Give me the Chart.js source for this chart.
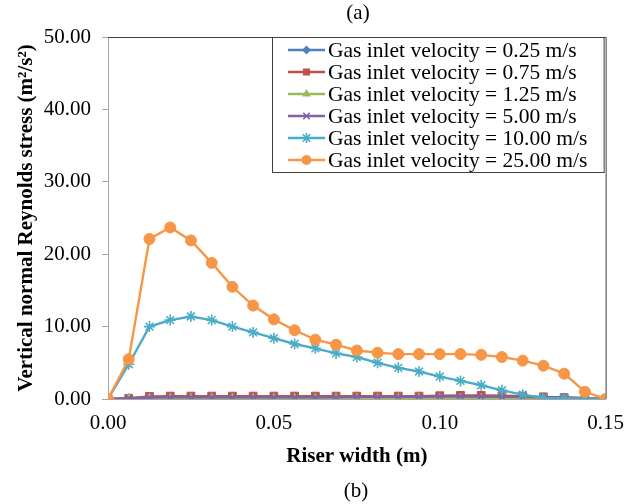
<!DOCTYPE html>
<html><head><meta charset="utf-8">
<script src="https://cdn.jsdelivr.net/npm/chart.js@4.4.1/dist/chart.umd.min.js"></script>
<style>html,body{margin:0;padding:0;background:#fff}#wrap{width:636px;height:504px}</style>
</head><body><div id="wrap"><canvas id="c" width="636" height="504"></canvas></div>
<script>
// Riser width positions (m)
const riserWidth = [0, 0.00625, 0.0125, 0.01875, 0.025, 0.03125, 0.0375, 0.04375, 0.05, 0.05625, 0.0625, 0.06875, 0.075, 0.08125, 0.0875, 0.09375, 0.1, 0.10625, 0.1125, 0.11875, 0.125, 0.13125, 0.1375, 0.14375, 0.15];
const seriesNames = ["Gas inlet velocity = 0.25 m/s","Gas inlet velocity = 0.75 m/s","Gas inlet velocity = 1.25 m/s","Gas inlet velocity = 5.00 m/s","Gas inlet velocity = 10.00 m/s","Gas inlet velocity = 25.00 m/s"];
const v025 = [0, 0.02, 0.03, 0.03, 0.03, 0.03, 0.03, 0.03, 0.03, 0.03, 0.03, 0.03, 0.03, 0.03, 0.03, 0.03, 0.03, 0.03, 0.03, 0.03, 0.03, 0.03, 0.03, 0.02, 0];
const v075 = [0, 0.1, 0.35, 0.4, 0.4, 0.4, 0.4, 0.4, 0.4, 0.4, 0.4, 0.4, 0.4, 0.4, 0.4, 0.4, 0.45, 0.5, 0.5, 0.45, 0.4, 0.3, 0.2, 0.1, 0];
const v125 = [0, 0.02, 0.03, 0.03, 0.03, 0.03, 0.03, 0.03, 0.03, 0.03, 0.03, 0.03, 0.03, 0.03, 0.03, 0.03, 0.03, 0.03, 0.03, 0.03, 0.03, 0.03, 0.03, 0.02, 0];
const v500 = [0, 0.1, 0.2, 0.25, 0.25, 0.25, 0.25, 0.25, 0.25, 0.25, 0.25, 0.25, 0.3, 0.3, 0.3, 0.3, 0.35, 0.35, 0.35, 0.3, 0.3, 0.25, 0.2, 0.1, 0];
const v1000 = [0, 4.8, 10.0, 10.9, 11.4, 10.9, 10.0, 9.2, 8.4, 7.6, 7.0, 6.3, 5.8, 5.0, 4.3, 3.8, 3.1, 2.5, 1.9, 1.2, 0.6, 0.15, 0.1, 0.05, 0];
const v2500 = [0, 5.5, 22.1, 23.7, 21.9, 18.8, 15.5, 12.9, 11.0, 9.5, 8.2, 7.5, 6.7, 6.4, 6.2, 6.2, 6.2, 6.2, 6.1, 5.8, 5.3, 4.6, 3.5, 1.0, 0];
const xTicks = [0, 0.05, 0.10, 0.15];
const yTicks = [0, 10, 20, 30, 40, 50];

const seriesValues = [v025, v075, v125, v500, v1000, v2500];
const colors = ['#4F81BD', '#C0504D', '#9BBB59', '#8064A2', '#4BACC6', '#F79646'];
const styles = ['rectRot', 'rect', 'triangle', 'crossRot', 'star', 'circle'];
const radii = [5, 5.5, 5.5, 4.5, 5.5, 5.5];

const FONT = "'Liberation Serif', 'Times New Roman', serif";

const datasets = seriesValues.map((vals, i) => ({
  label: seriesNames[i],
  data: vals.map((v, j) => ({x: riserWidth[j], y: v})),
  borderColor: colors[i],
  backgroundColor: colors[i],
  pointBackgroundColor: colors[i],
  pointBorderColor: colors[i],
  pointStyle: styles[i],
  pointRadius: radii[i],
  pointBorderWidth: styles[i] === 'crossRot' || styles[i] === 'star' ? 1.6 : 1,
  borderWidth: 2.4,
  tension: 0,
  order: 6 - i
}));

function drawMarker(ctx, style, x, y, r, color) {
  ctx.save();
  ctx.fillStyle = color; ctx.strokeStyle = color; ctx.lineWidth = 1;
  ctx.beginPath();
  if (style === 'circle') { ctx.arc(x, y, r, 0, Math.PI*2); ctx.fill(); }
  else if (style === 'rect') { const s = Math.SQRT1_2 * r; ctx.rect(x-s, y-s, 2*s, 2*s); ctx.fill(); }
  else if (style === 'rectRot') { ctx.moveTo(x, y-r); ctx.lineTo(x+r, y); ctx.lineTo(x, y+r); ctx.lineTo(x-r, y); ctx.closePath(); ctx.fill(); }
  else if (style === 'triangle') { ctx.moveTo(x, y-r); ctx.lineTo(x+r*0.87, y+r*0.5); ctx.lineTo(x-r*0.87, y+r*0.5); ctx.closePath(); ctx.fill(); }
  else if (style === 'crossRot') { ctx.lineWidth = 1.6; const s = r*0.8; ctx.moveTo(x-s,y-s); ctx.lineTo(x+s,y+s); ctx.moveTo(x+s,y-s); ctx.lineTo(x-s,y+s); ctx.stroke(); }
  else if (style === 'star') { ctx.lineWidth = 1.6; const s = r*0.75; ctx.moveTo(x-s,y-s); ctx.lineTo(x+s,y+s); ctx.moveTo(x+s,y-s); ctx.lineTo(x-s,y+s); ctx.moveTo(x, y-r); ctx.lineTo(x, y+r); ctx.moveTo(x-r, y); ctx.lineTo(x+r, y); ctx.stroke(); }
  ctx.restore();
}

const decor = {
  id: 'decor',
  beforeDatasetsDraw(chart) {
    const {ctx, chartArea: a} = chart;
    ctx.save();
    ctx.strokeStyle = '#404040'; ctx.lineWidth = 1;
    ctx.beginPath();
    ctx.moveTo(a.left, a.top + 0.5); ctx.lineTo(a.right + 0.5, a.top + 0.5); ctx.lineTo(a.right + 0.5, a.bottom);
    ctx.stroke();
    ctx.restore();
  },
  afterDraw(chart) {
    const {ctx, chartArea: a} = chart;
    ctx.save();
    // legend box
    const bx = 272, by = a.top, bw = a.right - 272 - 2, bh = 135;
    ctx.fillStyle = '#fff';
    ctx.fillRect(bx, by, bw, bh);
    ctx.strokeStyle = '#404040'; ctx.lineWidth = 1;
    ctx.strokeRect(bx + 0.5, by + 0.5, bw, bh);
    ctx.font = "21.5px " + FONT;
    ctx.textBaseline = 'middle';
    ctx.textAlign = 'left';
    seriesNames.forEach((name, i) => {
      const y = by + 13 + i * 22;
      ctx.strokeStyle = colors[i]; ctx.lineWidth = 2.4;
      ctx.beginPath(); ctx.moveTo(288, y); ctx.lineTo(325, y); ctx.stroke();
      drawMarker(ctx, styles[i], 306.5, y, radii[i] - 0.5, colors[i]);
      ctx.fillStyle = '#000';
      ctx.fillText(name, 328, y + 1);
    });
    // panel labels
    ctx.textAlign = 'center';
    ctx.fillStyle = '#000';
    ctx.font = "21px " + FONT;
    ctx.fillText('(a)', 358, 13);
    ctx.fillText('(b)', 356, 491);
    ctx.restore();
  }
};

new Chart(document.getElementById('c'), {
  type: 'line',
  data: { datasets },
  options: {
    responsive: false,
    animation: false,
    devicePixelRatio: 1,
    layout: { padding: { top: 37, right: 30, left: 0, bottom: 0 } },
    plugins: { legend: { display: false }, tooltip: { enabled: false }, title: { display: false } },
    scales: {
      x: {
        type: 'linear', min: 0, max: 0.15,
        afterFit(s) { s.height = 105; },
        afterBuildTicks(s) { s.ticks = xTicks.map(v => ({value: v})); },
        ticks: { callback: v => Number(v).toFixed(2), font: { family: FONT, size: 21 }, color: '#000', padding: 12, maxRotation: 0 },
        grid: { display: true, drawOnChartArea: false, drawTicks: false, color: '#A6A6A6' },
        border: { display: true, color: '#A6A6A6', width: 1 },
        title: { display: true, text: 'Riser width (m)', font: { family: FONT, size: 21, weight: 'bold' }, color: '#000', padding: { top: 0, bottom: 35 } }
      },
      y: {
        type: 'linear', min: 0, max: 50,
        afterFit(s) { s.width = 108; },
        afterBuildTicks(s) { s.ticks = yTicks.map(v => ({value: v})); },
        ticks: { callback: v => Number(v).toFixed(2), font: { family: FONT, size: 21 }, color: '#000', padding: 11 },
        grid: { display: true, drawOnChartArea: false, drawTicks: true, tickLength: 6, color: '#A6A6A6' },
        border: { display: true, color: '#A6A6A6', width: 1 },
        title: { display: true, text: 'Vertical normal Reynolds stress (m²/s²)', font: { family: FONT, size: 21, weight: 'bold' }, color: '#000', padding: { top: 14, bottom: 0 } }
      }
    }
  },
  plugins: [decor]
});
</script>
</body></html>
